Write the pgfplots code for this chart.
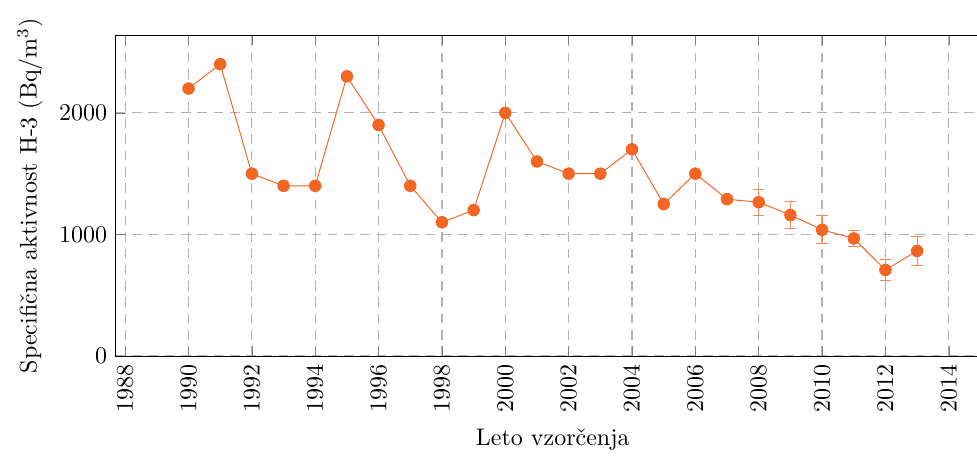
\documentclass[border=0pt]{standalone}
\usepackage{pgfplots}
\pgfplotsset{compat=1.18}
\usetikzlibrary{calc}
\definecolor{oranz}{RGB}{242,101,34}

\pgfplotstableread{
x     y     e
1990  2200  0
1991  2400  0
1992  1500  0
1993  1400  0
1994  1400  0
1995  2300  0
1996  1900  0
1997  1400  0
1998  1100  0
1999  1200  0
2000  2000  0
2001  1600  0
2002  1500  0
2003  1500  0
2004  1700  0
2005  1250  0
2006  1500  0
2007  1290  0
2008  1265  107
2009  1160  115
2010  1038  115
2011  967   67
2012  708   85
2013  864   120
}\tritij

\begin{document}
\begin{tikzpicture}
\begin{axis}[
  name=ax,
  scale only axis,
  width=364.3pt, height=133.75pt,
  xmin=1987.7, xmax=2015.3,
  ymin=0, ymax=2640,
  xtick={1988,1990,...,2014},
  ytick={0,1000,2000},
  /pgf/number format/1000 sep={},
  xticklabel style={rotate=90, anchor=east},
  xlabel={Leto vzorčenja},
  ylabel={Specifična aktivnost H-3 (Bq/m$^3$)},
  grid=major,
  grid style={gray!60, line width=0.5pt, dash pattern=on 4pt off 2.8pt},
  major tick style={gray},
]
\addplot+[oranz, mark=*, mark size=2.4pt,
  mark options={fill=oranz, draw=oranz},
  error bars/.cd, y dir=both, y explicit,
  error bar style={oranz!75}]
  table[x=x, y=y, y error=e] {\tritij};
\end{axis}
\pgfresetboundingbox
\path[use as bounding box] ($(ax.south west)+(-48.2pt,-42.1pt)$) rectangle ($(ax.north west)+(358.9pt,14.6pt)$);
\end{tikzpicture}
\end{document}
